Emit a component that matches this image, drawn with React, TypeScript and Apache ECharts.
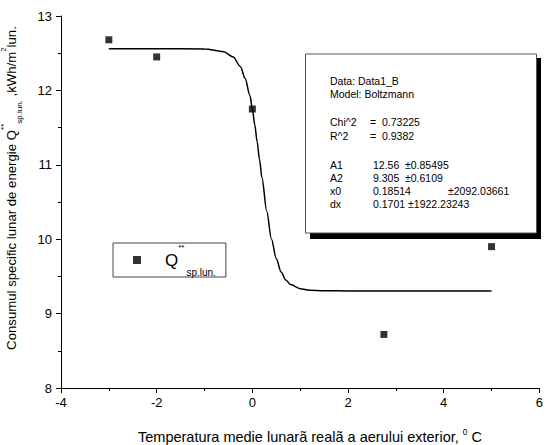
import React, { useEffect, useRef } from "react";
import * as echarts from "echarts";

// Observed monthly values
const obsX = [-3, -2, 0, 2.75, 5];
const obsY = [12.68, 12.45, 11.75, 8.72, 9.9];

// Fitted Boltzmann curve
const fitX = [-3, -2, -1, -0.6, -0.4, -0.25, -0.15, -0.05, 0, 0.05, 0.1, 0.15, 0.2, 0.3, 0.4, 0.5, 0.6, 0.7, 0.8, 1.0, 1.2, 1.5, 2, 3, 4, 5];
const fitY = [12.56, 12.56, 12.557, 12.52, 12.45, 12.32, 12.16, 11.93, 11.75, 11.54, 11.31, 11.07, 10.83, 10.38, 10.0, 9.74, 9.56, 9.45, 9.39, 9.335, 9.315, 9.307, 9.305, 9.305, 9.305, 9.305];

// Fit report lines
const fitHeader = ["Data: Data1_B", "Model: Boltzmann"];
const fitStats = [
  ["Chi^2", "=  0.73225"],
  ["R^2", "=  0.9382"],
];
const fitParams = [
  ["A1", "12.56", "±0.85495"],
  ["A2", "9.305", "±0.6109"],
  ["x0", "0.18514", "±2092.03661"],
  ["dx", "0.1701 ±1922.23243", ""],
];

const FONT = "'Liberation Sans', Arial, sans-serif";

export default function App() {
  const ref = useRef<HTMLDivElement>(null);
  useEffect(() => {
    if (!ref.current) return;
    const chart = echarts.init(ref.current, undefined, { renderer: "svg" });

    const tx = 330;
    const txt = (text: string, x: number, y: number) => ({
      type: "text",
      x,
      y,
      z: 12,
      style: { text, font: `10.5px ${FONT}`, fill: "#000", verticalAlign: "middle" },
    });
    const infoTexts: any[] = [];
    const headerYs = [80.7, 94.3];
    fitHeader.forEach((t, i) => infoTexts.push(txt(t, tx, headerYs[i])));
    const statYs = [122, 135.5];
    fitStats.forEach((r, i) => {
      infoTexts.push(txt(r[0], tx, statYs[i]));
      infoTexts.push(txt(r[1], tx + 40, statYs[i]));
    });
    const paramYs = [164.5, 177.5, 190.5, 203.5];
    const errX = [tx + 75, tx + 75, tx + 118, 0];
    fitParams.forEach((r, i) => {
      infoTexts.push(txt(r[0], tx, paramYs[i]));
      infoTexts.push(txt(r[1], tx + 43, paramYs[i]));
      if (r[2]) infoTexts.push(txt(r[2], errX[i], paramYs[i]));
    });

    chart.setOption({
      animation: false,
      backgroundColor: "#fff",
      grid: { left: 61, right: 4, top: 16, bottom: 57, containLabel: false },
      xAxis: {
        type: "value",
        min: -4,
        max: 6,
        interval: 2,
        axisLine: { onZero: false, lineStyle: { color: "#000", width: 1 } },
        axisTick: { length: 5, lineStyle: { color: "#000" } },
        minorTick: { show: true, splitNumber: 2, length: 3, lineStyle: { color: "#000" } },
        splitLine: { show: false },
        axisLabel: { color: "#000", fontSize: 13, fontFamily: FONT, margin: 8 },
      },
      yAxis: {
        type: "value",
        min: 8,
        max: 13,
        interval: 1,
        axisLine: { show: true, onZero: false, lineStyle: { color: "#000", width: 1 } },
        axisTick: { show: true, length: 5, lineStyle: { color: "#000" } },
        minorTick: { show: true, splitNumber: 2, length: 3, lineStyle: { color: "#000" } },
        splitLine: { show: false },
        axisLabel: { color: "#000", fontSize: 13, fontFamily: FONT, margin: 9 },
      },
      legend: {
        left: 113,
        top: 243,
        orient: "vertical",
        padding: [0, 10, 0, 20],
        borderColor: "#444",
        borderWidth: 1,
        backgroundColor: "#fff",
        itemWidth: 8,
        itemHeight: 8,
        data: [{ name: "Q", icon: "rect" }],
        formatter: () => "{q|Q}{sup|**}{sub|sp.lun.}",
        textStyle: {
          padding: [0, 0, 0, 19],
          fontFamily: FONT,
          color: "#000",
          rich: {
            q: { fontSize: 17, lineHeight: 34, fontFamily: FONT, color: "#000", verticalAlign: "middle" },
            sup: { fontSize: 8, lineHeight: 12, fontFamily: FONT, color: "#000", verticalAlign: "top" },
            sub: { fontSize: 10, lineHeight: 12, fontFamily: FONT, color: "#000", verticalAlign: "bottom", padding: [0, 0, 0, 2] },
          },
        },
      },
      series: [
        {
          name: "fit",
          type: "line",
          data: fitX.map((x, i) => [x, fitY[i]]),
          showSymbol: false,
          symbol: "none",
          smooth: 0.3,
          smoothMonotone: "x",
          lineStyle: { color: "#000", width: 1.5 },
          z: 2,
        },
        {
          name: "Q",
          type: "scatter",
          data: obsX.map((x, i) => [x, obsY[i]]),
          symbol: "rect",
          symbolSize: 7,
          itemStyle: { color: "#000" },
          z: 3,
        },
      ],
      graphic: [
        {
          type: "text",
          x: 11,
          y: 188,
          rotation: Math.PI / 2,
          style: {
            text: "Consumul specific lunar de energie Q{sup|**}{sub|sp.lun.} ,kWh/m{sup|2}lun.",
            font: `13.2px ${FONT}`,
            fill: "#000",
            align: "center",
            verticalAlign: "middle",
            rich: {
              sup: { fontSize: 8, lineHeight: 10, verticalAlign: "top", fontFamily: FONT, fill: "#000" } as any,
              sub: { fontSize: 8, lineHeight: 10, verticalAlign: "bottom", fontFamily: FONT, fill: "#000" } as any,
            },
            lineHeight: 24,
          } as any,
        },
        {
          type: "text",
          x: 310,
          y: 437,
          style: {
            text: "Temperatura medie lunarã realã a aerului exterior, {sup|0} C",
            font: `14.5px ${FONT}`,
            fill: "#000",
            align: "center",
            verticalAlign: "middle",
            lineHeight: 20,
            rich: {
              sup: { fontSize: 8.5, lineHeight: 10, verticalAlign: "top", fontFamily: FONT, fill: "#000" } as any,
            },
          } as any,
        },
        {
          type: "rect",
          shape: { x: 310, y: 58, width: 231, height: 181 },
          style: { fill: "#000" },
          z: 10,
        },
        {
          type: "rect",
          shape: { x: 305.5, y: 54, width: 231, height: 179 },
          style: { fill: "#fff", stroke: "#555", lineWidth: 1 },
          z: 11,
        },
        ...infoTexts,
      ],
    });
    return () => chart.dispose();
  }, []);
  return <div ref={ref} style={{ position: "fixed", left: 0, top: 0, width: 546, height: 445 }} />;
}
